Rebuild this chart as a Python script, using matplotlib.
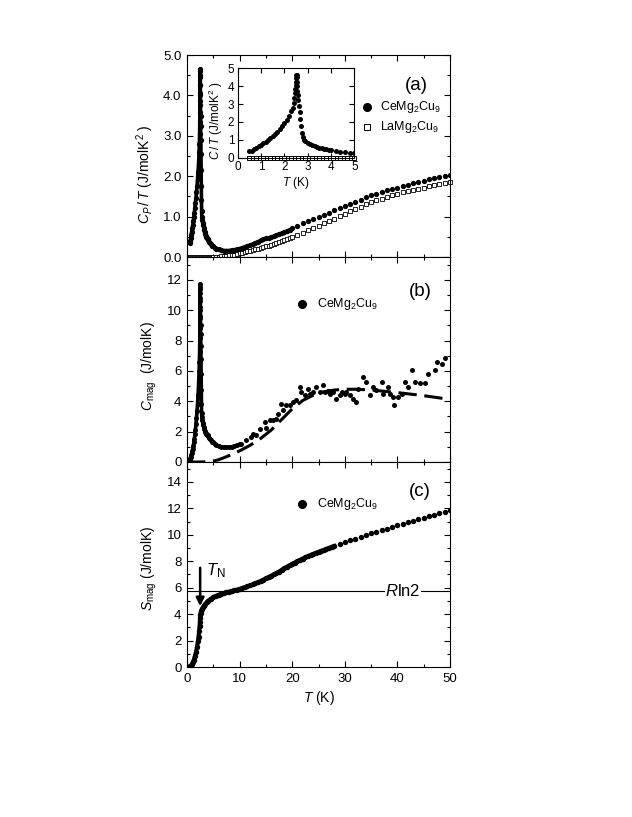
import numpy as np
import matplotlib
matplotlib.use("Agg")
import matplotlib.pyplot as plt
from matplotlib.ticker import MultipleLocator, FormatStrFormatter


# ==============================
# DATA
# ==============================

# (a) C_P / T of CeMg2Cu9
ce_T = [0.50, 0.60, 0.70, 0.80, 0.90, 1.00, 1.10, 1.20, 1.30, 1.40, 1.50, 1.60,
        1.70, 1.80, 1.90, 2.00, 2.10, 2.20, 2.30, 2.35, 2.40, 2.43, 2.45, 2.47,
        2.48, 2.49, 2.50, 2.51, 2.52, 2.53, 2.54, 2.55, 2.56, 2.58, 2.60, 2.63,
        2.66, 2.69, 2.72, 2.75, 2.78, 2.82, 2.90, 3.00, 3.10, 3.20, 3.30, 3.40,
        3.50, 3.60, 3.70, 3.80, 3.90, 4.00, 4.20, 4.40, 4.60, 4.80, 5.00, 5.30,
        5.60, 6.00, 6.50, 7.00, 7.50, 8.00, 8.50, 9.00, 9.50, 10.0, 10.5, 11.0,
        11.5, 12.0, 12.5, 13.0, 13.5, 14.0, 14.5, 15.0, 15.5, 16.0, 16.5, 17.0,
        17.5, 18.0, 18.5, 19.0, 19.5, 20.0, 21.0, 22.0, 23.0, 24.0, 25.0, 26.0,
        27.0, 28.0, 29.0, 30.0, 31.0, 32.0, 33.0, 34.0, 35.0, 36.0, 37.0, 38.0,
        39.0, 40.0, 41.0, 42.0, 43.0, 44.0, 45.0, 46.0, 47.0, 48.0, 49.0, 50.0]
ce_CT = [0.35, 0.39, 0.47, 0.55, 0.63, 0.71, 0.80, 0.90, 0.99, 1.10, 1.22, 1.34,
         1.46, 1.60, 1.75, 1.92, 2.10, 2.32, 2.60, 2.80, 3.05, 3.35, 3.60, 3.85,
         4.05, 4.25, 4.45, 4.60, 4.65, 4.50, 4.25, 4.00, 3.75, 3.50, 3.25, 2.90,
         2.55, 2.15, 1.75, 1.40, 1.15, 1.00, 0.92, 0.85, 0.78, 0.72, 0.66, 0.61,
         0.57, 0.53, 0.50, 0.47, 0.45, 0.42, 0.38, 0.34, 0.31, 0.28, 0.26, 0.23,
         0.21, 0.19, 0.17, 0.16, 0.16, 0.16, 0.17, 0.18, 0.19, 0.21, 0.23, 0.25,
         0.27, 0.29, 0.32, 0.35, 0.38, 0.41, 0.44, 0.46, 0.47, 0.49, 0.51, 0.54,
         0.57, 0.59, 0.61, 0.64, 0.67, 0.71, 0.77, 0.83, 0.89, 0.95, 1.00, 1.05,
         1.10, 1.16, 1.21, 1.26, 1.31, 1.36, 1.41, 1.48, 1.53, 1.57, 1.61, 1.65,
         1.69, 1.72, 1.75, 1.79, 1.82, 1.86, 1.89, 1.92, 1.95, 1.98, 2.00, 2.03]

# (a) C_P / T of LaMg2Cu9
la_T = [0.50, 0.65, 0.80, 0.95, 1.10, 1.25, 1.40, 1.55, 1.70, 1.85, 2.00, 2.15,
        2.30, 2.45, 2.60, 2.75, 2.90, 3.05, 3.20, 3.35, 3.50, 3.65, 3.80, 3.95,
        4.10, 4.25, 4.40, 4.55, 4.70, 4.85, 5.00, 5.50, 6.00, 6.50, 7.00, 7.50,
        8.00, 8.50, 9.00, 9.50, 10.0, 10.5, 11.0, 11.5, 12.0, 12.5, 13.0, 13.5,
        14.0, 14.5, 15.0, 15.5, 16.0, 16.5, 17.0, 17.5, 18.0, 18.5, 19.0, 19.5,
        20.0, 21.0, 22.0, 23.0, 24.0, 25.0, 26.0, 27.0, 28.0, 29.0, 30.0, 31.0,
        32.0, 33.0, 34.0, 35.0, 36.0, 37.0, 38.0, 39.0, 40.0, 41.0, 42.0, 43.0,
        44.0, 45.0, 46.0, 47.0, 48.0, 49.0, 50.0]
la_CT = [0.00, 0.00, 0.00, 0.00, 0.00, 0.00, 0.00, 0.00, 0.00, 0.00, 0.00, 0.00,
         0.00, 0.00, 0.00, 0.00, 0.00, 0.00, 0.00, 0.00, 0.00, 0.00, 0.00, 0.00,
         0.00, 0.00, 0.00, 0.00, 0.00, 0.00, 0.00, 0.01, 0.01, 0.02, 0.02, 0.03,
         0.04, 0.05, 0.06, 0.07, 0.09, 0.10, 0.12, 0.14, 0.15, 0.17, 0.19, 0.21,
         0.22, 0.24, 0.26, 0.28, 0.30, 0.32, 0.34, 0.37, 0.39, 0.41, 0.44, 0.46,
         0.49, 0.54, 0.60, 0.66, 0.71, 0.77, 0.83, 0.89, 0.95, 1.01, 1.07, 1.13,
         1.19, 1.24, 1.30, 1.35, 1.40, 1.44, 1.49, 1.53, 1.57, 1.60, 1.63, 1.66,
         1.69, 1.72, 1.75, 1.78, 1.81, 1.83, 1.85]

# (b) C_mag of CeMg2Cu9
cmag_T = [0.50, 0.60, 0.70, 0.80, 0.90, 1.00, 1.10, 1.20, 1.30, 1.40, 1.50, 1.60,
          1.70, 1.80, 1.90, 2.00, 2.10, 2.20, 2.30, 2.35, 2.40, 2.43, 2.45, 2.47,
          2.48, 2.49, 2.50, 2.51, 2.52, 2.53, 2.54, 2.55, 2.56, 2.58, 2.60, 2.63,
          2.66, 2.69, 2.72, 2.75, 2.78, 2.82, 2.90, 3.00, 3.10, 3.20, 3.30, 3.40,
          3.50, 3.60, 3.70, 3.80, 3.90, 4.00, 4.20, 4.40, 4.60, 4.80, 5.00, 5.30,
          5.60, 6.00, 6.50, 7.00, 7.50, 8.00, 8.50, 9.00, 9.50, 10.0,
          10.3, 11.3, 12.2, 12.5, 13.2, 13.8, 14.8, 15.1, 15.7, 16.3, 17.0, 17.3,
          17.9, 18.3, 18.9, 19.5, 20.2, 20.8, 21.4, 21.7, 22.4, 23.0, 23.3, 24.0,
          24.6, 25.2, 25.9, 26.2, 26.8, 27.1, 27.8, 28.4, 29.0, 29.4, 30.0, 30.3,
          31.0, 31.6, 32.2, 32.5, 33.5, 34.1, 34.8, 35.4, 36.0, 37.0, 37.3, 38.3,
          38.6, 39.2, 39.3, 40.2, 40.8, 41.4, 42.1, 42.7, 43.3, 44.3, 45.2, 45.9,
          47.1, 47.5, 48.4, 49.0]
cmag = [0.18, 0.23, 0.33, 0.44, 0.57, 0.71, 0.88, 1.08, 1.29, 1.54, 1.83, 2.14,
        2.48, 2.88, 3.33, 3.84, 4.41, 5.10, 5.98, 6.58, 7.32, 8.14, 8.82, 9.51,
        10.04, 10.58, 11.13, 11.55, 11.72, 11.39, 10.80, 10.20, 9.60, 9.03, 8.45, 7.63,
        6.78, 5.78, 4.76, 3.85, 3.20, 2.95, 2.75, 2.55, 2.42, 2.30, 2.18, 2.07,
        2.00, 1.91, 1.85, 1.79, 1.75, 1.68, 1.60, 1.50, 1.43, 1.34, 1.30, 1.20,
        1.12, 1.06, 1.00, 0.97, 0.96, 0.97, 1.00, 1.04, 1.10, 1.17,
        1.20, 1.43, 1.65, 1.87, 1.76, 2.20, 2.64, 2.26, 2.75, 2.79, 2.86, 3.14,
        3.85, 3.41, 3.74, 3.74, 3.96, 4.07, 4.95, 4.60, 4.40, 4.84, 4.50, 4.60,
        4.95, 4.60, 5.05, 4.60, 4.70, 4.46, 4.60, 4.18, 4.40, 4.60, 4.46, 4.60,
        4.40, 4.18, 3.96, 4.84, 5.60, 5.27, 4.40, 4.95, 4.73, 5.27, 4.50, 4.95,
        4.50, 4.29, 3.74, 4.29, 4.50, 5.27, 4.95, 6.04, 5.27, 5.23, 5.20, 5.82,
        6.04, 6.60, 6.44, 6.88]

# (b) dashed model curve
fit_T = [0, 2, 3, 4, 5, 6, 7, 8, 9, 10, 12, 14, 16, 18, 20, 22, 24, 26, 28,
         30, 32, 34, 36, 38, 40, 42, 44, 46, 48, 50]
fit_C = [0.0, 0.0, 0.005, 0.02, 0.05, 0.15, 0.28, 0.42, 0.57, 0.73, 1.10, 1.55,
         2.10, 2.80, 3.50, 4.05, 4.40, 4.62, 4.74, 4.79, 4.79, 4.76, 4.71, 4.64,
         4.57, 4.49, 4.41, 4.32, 4.22, 4.12]

# (c) S_mag of CeMg2Cu9
smag_T = [0.50, 0.70, 0.90, 1.10, 1.30, 1.50, 1.70, 1.90, 2.10, 2.20, 2.30, 2.40,
          2.45, 2.50, 2.55, 2.60, 2.70, 2.80, 3.00, 3.25, 3.50, 3.75, 4.00, 4.50,
          5.00, 5.50, 6.00, 6.50, 7.00, 7.50, 8.00, 8.50, 9.00, 9.50, 10.0, 10.5,
          11.0, 11.5, 12.0, 12.5, 13.0, 13.5, 14.0, 14.5, 15.0, 15.5, 16.0, 16.5,
          17.0, 17.5, 18.0, 18.5, 19.0, 19.5, 20.0, 20.5, 21.0, 21.5, 22.0, 22.5,
          23.0, 23.5, 24.0, 24.5, 25.0, 25.5, 26.0, 26.5, 27.0, 27.5, 28.0, 29.0,
          30.0, 31.0, 32.0, 33.0, 34.0, 35.0, 36.0, 37.0, 38.0, 39.0, 40.0, 41.0,
          42.0, 43.0, 44.0, 45.0, 46.0, 47.0, 48.0, 49.0, 50.0]
smag = [0.05, 0.10, 0.20, 0.35, 0.55, 0.80, 1.10, 1.50, 2.00, 2.30, 2.70, 3.10,
        3.40, 3.70, 3.95, 4.10, 4.25, 4.35, 4.50, 4.65, 4.78, 4.90, 5.00, 5.15,
        5.28, 5.38, 5.46, 5.53, 5.60, 5.65, 5.70, 5.75, 5.80, 5.85, 5.90, 5.96,
        6.03, 6.10, 6.17, 6.24, 6.32, 6.41, 6.50, 6.60, 6.70, 6.80, 6.90, 7.00,
        7.10, 7.22, 7.35, 7.46, 7.58, 7.69, 7.80, 7.90, 8.00, 8.10, 8.20, 8.29,
        8.38, 8.47, 8.55, 8.63, 8.70, 8.78, 8.85, 8.93, 9.00, 9.08, 9.15, 9.30,
        9.45, 9.58, 9.71, 9.84, 9.97, 10.10, 10.22, 10.34, 10.46, 10.58, 10.70, 10.82,
        10.94, 11.06, 11.18, 11.30, 11.42, 11.53, 11.64, 11.75, 11.85]

RLN2 = 5.76
T_NEEL = 2.5


# ==============================
# STYLE
# ==============================

plt.rcParams["font.family"] = ["Liberation Sans", "DejaVu Sans"]
plt.rcParams["mathtext.fontset"] = "custom"
plt.rcParams["mathtext.rm"] = "Liberation Sans"
plt.rcParams["mathtext.it"] = "Liberation Sans:italic"
plt.rcParams["axes.linewidth"] = 0.8


def style_axes(ax, ymajor, yminor, xlabels=False):
    ax.set_xlim(0, 50)
    ax.xaxis.set_major_locator(MultipleLocator(10))
    ax.xaxis.set_minor_locator(MultipleLocator(5))
    ax.yaxis.set_major_locator(MultipleLocator(ymajor))
    ax.yaxis.set_minor_locator(MultipleLocator(yminor))
    ax.tick_params(which="both", direction="in", top=True, right=True,
                   labelsize=9.5, width=0.8, pad=4)
    ax.tick_params(which="major", length=4.5)
    ax.tick_params(which="minor", length=2.5)
    if not xlabels:
        ax.tick_params(labelbottom=False)


def upto(xs, ys, tmax):
    # slice of a series below tmax (for the dense, continuous looking part)
    n = sum(1 for x in xs if x <= tmax)
    return xs[:n], ys[:n]


fig = plt.figure(figsize=(6.32, 8.17), dpi=100)
W, H = 632, 817
left, width = 187 / W, 263 / W
ax_a = fig.add_axes([left, 1 - 257 / H, width, 202 / H])
ax_b = fig.add_axes([left, 1 - 462 / H, width, 205 / H])
ax_c = fig.add_axes([left, 1 - 667 / H, width, 205 / H])
ax_in = fig.add_axes([237.7 / W, 1 - 157.7 / H, 116.7 / W, 89.4 / H])

# ------------------------------
# (a)
# ------------------------------
ax_a.plot(la_T, la_CT, "s", ms=3.2, mfc="white", mec="black", mew=0.6,
          clip_on=False, zorder=2)
ax_a.plot(*upto(ce_T, ce_CT, 20), color="black", lw=2.6, zorder=3)
ax_a.plot(ce_T, ce_CT, "o", ms=3.8, color="black", mew=0, zorder=3)
ax_a.set_ylim(0, 5.0)
style_axes(ax_a, 1.0, 0.5)
ax_a.yaxis.set_major_formatter(FormatStrFormatter("%.1f"))
ax_a.set_ylabel(r"$C_P\,/\,T$ (J/molK$^2$ )", fontsize=10)
ax_a.yaxis.set_label_coords(-0.118, 0.41)
ax_a.text(0.873, 0.851, "(a)", transform=ax_a.transAxes, fontsize=13.5,
          ha="center", va="center")
ax_a.plot([0.683], [0.744], "o", ms=5.5, color="black", transform=ax_a.transAxes,
          clip_on=False)
ax_a.plot([0.683], [0.642], "s", ms=5.0, mfc="white", mec="black", mew=0.7,
          transform=ax_a.transAxes, clip_on=False)
ax_a.text(0.734, 0.744, r"CeMg$_2$Cu$_9$", transform=ax_a.transAxes,
          fontsize=9, va="center")
ax_a.text(0.734, 0.642, r"LaMg$_2$Cu$_9$", transform=ax_a.transAxes,
          fontsize=9, va="center")

# inset
ax_in.plot(*upto(la_T, la_CT, 5.0), "s", ms=3.0, mfc="white", mec="black",
           mew=0.7, clip_on=False, zorder=2)
ax_in.plot(ce_T, ce_CT, "o", ms=3.6, color="black", mew=0, zorder=3)
ax_in.set_xlim(0, 5)
ax_in.set_ylim(0, 5)
ax_in.xaxis.set_major_locator(MultipleLocator(1))
ax_in.yaxis.set_major_locator(MultipleLocator(1))
ax_in.tick_params(direction="in", top=True, right=True, labelsize=8.5,
                  length=3.5, width=0.8, pad=2.5)
ax_in.set_xlabel(r"$T$ (K)", fontsize=8.5, labelpad=1.5)
ax_in.set_ylabel(r"$C\,/\,T$ (J/molK$^2$ )", fontsize=8.5)
ax_in.yaxis.set_label_coords(-0.109, 0.42)

# ------------------------------
# (b)
# ------------------------------
ax_b.plot(fit_T, fit_C, color="black", lw=2.2, dashes=(6, 2.5), zorder=2)
ax_b.plot(*upto(cmag_T, cmag, 10), color="black", lw=2.6, zorder=3)
ax_b.plot(cmag_T, cmag, "o", ms=3.6, color="black", mew=0, zorder=3)
ax_b.set_ylim(0, 13.5)
style_axes(ax_b, 2, 1)
ax_b.set_ylabel(r"$C_{\rm mag}$  (J/molK)", fontsize=10)
ax_b.yaxis.set_label_coords(-0.105, 0.47)
ax_b.text(0.886, 0.831, "(b)", transform=ax_b.transAxes, fontsize=13.5,
          ha="center", va="center")
ax_b.plot([0.436], [0.771], "o", ms=5.5, color="black", transform=ax_b.transAxes)
ax_b.text(0.493, 0.771, r"CeMg$_2$Cu$_9$", transform=ax_b.transAxes,
          fontsize=9, va="center")

# ------------------------------
# (c)
# ------------------------------
ax_c.axhline(RLN2, color="black", lw=0.8, zorder=1)
ax_c.plot(*upto(smag_T, smag, 28), color="black", lw=3.0, zorder=3)
ax_c.plot(smag_T, smag, "o", ms=3.9, color="black", mew=0, zorder=3)
ax_c.set_ylim(0, 15.5)
style_axes(ax_c, 2, 1, xlabels=True)
ax_c.set_ylabel(r"$S_{\rm mag}$ (J/molK)", fontsize=10)
ax_c.yaxis.set_label_coords(-0.105, 0.48)
ax_c.set_xlabel(r"$T$ (K)", fontsize=10, labelpad=3)
ax_c.text(0.886, 0.855, "(c)", transform=ax_c.transAxes, fontsize=13.5,
          ha="center", va="center")
ax_c.plot([0.436], [0.795], "o", ms=5.5, color="black", transform=ax_c.transAxes)
ax_c.text(0.493, 0.795, r"CeMg$_2$Cu$_9$", transform=ax_c.transAxes,
          fontsize=9, va="center")
ax_c.text(41, RLN2, r"$R$ln2", fontsize=12, ha="center", va="center",
          bbox=dict(fc="white", ec="none", pad=0.3), zorder=2)
ax_c.annotate("", xy=(T_NEEL, 4.6), xytext=(T_NEEL, 7.5),
              arrowprops=dict(arrowstyle="-|>", color="black", lw=1.8,
                              mutation_scale=12, shrinkA=0, shrinkB=0))
ax_c.text(3.6, 7.3, r"$T_{\rm N}$", fontsize=12, ha="left", va="center")

fig.savefig("out.png", dpi=100)
